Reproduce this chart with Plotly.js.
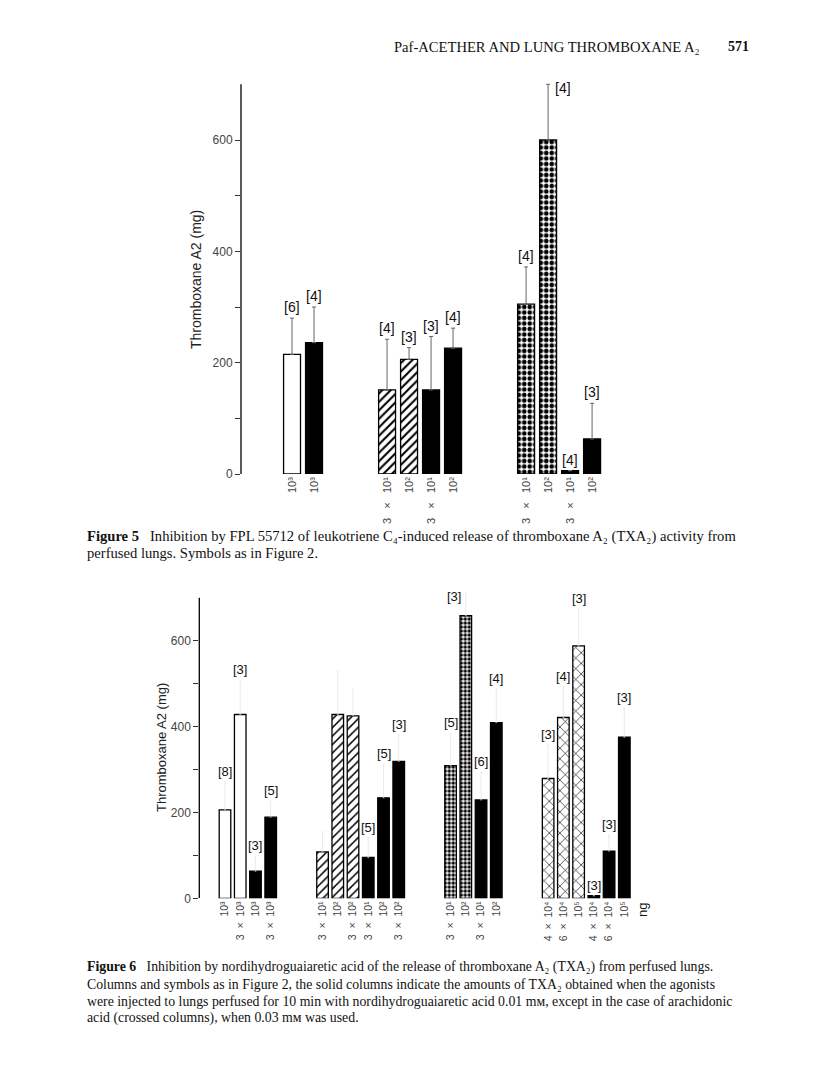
<!DOCTYPE html>
<html><head><meta charset="utf-8">
<script src="https://cdn.plot.ly/plotly-3.0.1.min.js"></script>
<style>html,body{margin:0;padding:0;background:#fff}#chart{width:816px;height:1091px}</style>
</head><body><div id="chart"></div>
<script>
// ---------- Figure 5 data ----------
const f5Labels = ['10³','10³','3   ×   10¹','10²','3   ×   10¹','10²','3   ×   10¹','10²','3   ×   10¹','10²'];
const f5Group  = [0,0,1,1,1,1,2,2,2,2];
const f5Kind   = ['open','solid','hatched','hatched','solid','solid','dotted','dotted','solid','solid'];
const f5Values = [215,236,151,206,151,226,305,600,6,63];
const f5ErrTop = [280,300,242,227,247,262,372,700,6,127];
const f5N      = [6,4,4,3,3,4,4,4,4,3];

// ---------- Figure 6 data ----------
const f6Labels = ['10³','3  ×  10³','10³','3  ×  10³',
                  '3  ×  10¹','10²','3  ×  10²','3  ×  10¹','10²','3  ×  10²',
                  '3  ×  10¹','10²','3  ×  10¹','10²',
                  '4  ×  10⁴','6  ×  10⁴','10⁵','4  ×  10⁴','6  ×  10⁴','10⁵'];
const f6Group  = [0,0,0,0, 1,1,1,1,1,1, 2,2,2,2, 3,3,3,3,3,3];
const f6Kind   = ['open','open','solid','solid',
                  'hatched','hatched','hatched','solid','solid','solid',
                  'dotted','dotted','solid','solid',
                  'crossed','crossed','crossed','solid','solid','solid'];
const f6Values = [206,428,63,189, 108,428,425,95,234,319, 309,658,229,409, 279,421,588,6,110,375];
const f6ErrTop = [270,508,98,227, 155,529,487,141,312,380, 384,712,293,487, 358,493,673,6,147,442];
const f6N      = [8,3,3,5, null,null,null,5,5,3, 5,3,6,4, 3,4,3,3,3,3];

const yTickVals = [0,200,400,600];
const yTickText = ['0','200','400','600'];
const yMinorVals = [100,300,500];

// ---------- helpers ----------
const W = 816, H = 1091;
const px = v => v / W;
const py = v => 1 - v / H;
const nb = s => s.replace(/ /g, '\u00a0');

function positions(groups, gap) {
  return groups.map((g, i) => i + g * gap);
}

function kindStyle(kind, dotSize, hatchSolid) {
  const line = {color: '#000', width: 1.3};
  switch (kind) {
    case 'open':    return {color: '#fff', line};
    case 'solid':   return {color: '#000', line};
    case 'hatched': return {color: '#fff', line, pattern: {shape: '/', fgcolor: '#000', bgcolor: '#fff', size: 6, solidity: hatchSolid, fillmode: 'replace'}};
    case 'dotted':  return {color: '#fff', line, pattern: {shape: '.', fgcolor: '#000', bgcolor: '#fff', size: dotSize, solidity: 0.55, fillmode: 'replace'}};
    case 'crossed': return {color: '#fff', line, pattern: {shape: 'x', fgcolor: '#000', bgcolor: '#fff', size: 7.5, solidity: 0.16, fillmode: 'replace'}};
  }
}

function buildTraces(xs, kinds, vals, errs, xa, ya, barW, dotSize, hatchSolid, errStyle) {
  const kindsU = [...new Set(kinds)];
  return kindsU.map(k => {
    const idx = kinds.map((kk, i) => kk === k ? i : -1).filter(i => i >= 0);
    return {
      type: 'bar', xaxis: xa, yaxis: ya,
      x: idx.map(i => xs[i]), y: idx.map(i => vals[i]),
      width: barW, marker: kindStyle(k, dotSize, hatchSolid), cliponaxis: false,
      error_y: Object.assign({type: 'data', symmetric: false, visible: true,
        array: idx.map(i => Math.max(0, errs[i] - vals[i])),
        arrayminus: idx.map(() => 0)}, errStyle),
      hoverinfo: 'skip'
    };
  });
}

function nLabels(xs, errs, ns, xref, yref, fontSize, sideOut) {
  const out = [];
  xs.forEach((x, i) => {
    if (ns[i] == null) return;
    const a = {x, y: errs[i], xref, yref, text: '[' + ns[i] + ']', showarrow: false,
      font: {family: 'Liberation Sans, Arial', size: fontSize, color: '#111'}};
    if (errs[i] >= 690) {
      a.yanchor = 'middle';
      a.yshift = -4;
      if (sideOut === 'right') { a.xanchor = 'left'; a.xshift = 5; }
      else { a.xanchor = 'right'; a.xshift = -3; }
    } else {
      a.yanchor = 'bottom'; a.yshift = 1;
    }
    out.push(a);
  });
  return out;
}

const f5X = positions(f5Group, 2.32);
const f6X = positions(f6Group, 2.4);

const traces = [
  ...buildTraces(f5X, f5Kind, f5Values, f5ErrTop, 'x', 'y', 0.77, 5.5, 0.35, {color: '#666', thickness: 1, width: 2}),
  ...buildTraces(f6X, f6Kind, f6Values, f6ErrTop, 'x2', 'y2', 0.76, 4, 0.25, {color: '#dedede', thickness: 0.6, width: 1})
];

const serif = 'Liberation Serif, Times New Roman, serif';
const sans = 'Liberation Sans, Arial, sans-serif';
const cap5Font = {family: serif, size: 14.6, color: '#111'};
const cap6Font = {family: serif, size: 13.8, color: '#111'};

function textAnn(text, xPx, yPx, font, extra) {
  return Object.assign({text, x: px(xPx), y: py(yPx), xref: 'paper', yref: 'paper',
    xanchor: 'left', yanchor: 'middle', showarrow: false, font}, extra || {});
}
const SP = '\u00a0\u00a0\u00a0';

const annotations = [
  ...nLabels(f5X, f5ErrTop, f5N, 'x', 'y', 14, 'right'),
  ...nLabels(f6X, f6ErrTop, f6N, 'x2', 'y2', 13, 'left'),
  textAnn('Paf-ACETHER AND LUNG THROMBOXANE A₂', 392, 47, {family: serif, size: 14.6, color: '#111'}),
  textAnn('<b>571</b>', 726, 47, {family: serif, size: 14, color: '#111'}),
  textAnn('<b>Figure 5</b>' + SP + 'Inhibition by FPL 55712 of leukotriene C₄-induced release of thromboxane A₂ (TXA₂) activity from', 85, 536, cap5Font),
  textAnn('perfused lungs. Symbols as in Figure 2.', 85, 553, cap5Font),
  textAnn('<b>Figure 6</b>' + SP + 'Inhibition by nordihydroguaiaretic acid of the release of thromboxane A₂ (TXA₂) from perfused lungs.', 85, 967, cap6Font),
  textAnn('Columns and symbols as in Figure 2, the solid columns indicate the amounts of TXA₂ obtained when the agonists', 85, 984, cap6Font),
  textAnn('were injected to lungs perfused for 10 min with nordihydroguaiaretic acid 0.01 mᴍ, except in the case of arachidonic', 85, 1001, cap6Font),
  textAnn('acid (crossed columns), when 0.03 mᴍ was used.', 85, 1018, cap6Font),
  textAnn('Thromboxane A2 (mg)', 196, 280, {family: sans, size: 14, color: '#222'}, {xanchor: 'center', textangle: -90}),
  textAnn('Thromboxane A2 (mg)', 161, 748, {family: sans, size: 13, color: '#222'}, {xanchor: 'center', textangle: -90}),
  textAnn('ng', 642, 910, {family: sans, size: 13, color: '#111'}, {xanchor: 'center', textangle: -90})
];

const yAxisBase = {
  range: [0, 720], showgrid: false, zeroline: false, showline: false,
  ticks: 'outside', ticklen: 5, tickwidth: 1, tickcolor: '#333',
  tickvals: yTickVals, ticktext: yTickText,
  minor: {tickvals: yMinorVals, ticks: 'outside', ticklen: 5, tickwidth: 1, tickcolor: '#333', showgrid: false},
  tickfont: {family: sans, size: 12, color: '#444'}
};
const xAxisBase = {
  showgrid: false, zeroline: false, showline: false, ticks: '',
  tickangle: -90, tickfont: {family: sans, size: 11, color: '#444'}
};

const layout = {
  width: W, height: H, margin: {l: 0, r: 0, t: 0, b: 0},
  paper_bgcolor: '#fff', plot_bgcolor: 'rgba(0,0,0,0)', showlegend: false,
  barmode: 'overlay',
  xaxis: Object.assign({}, xAxisBase, {domain: [px(241), px(611)], range: [-2.32, 14.5], anchor: 'y',
    tickvals: f5X, ticktext: f5Labels.map(nb)}),
  yaxis: Object.assign({}, yAxisBase, {domain: [py(474), py(73.2)], anchor: 'x'}),
  xaxis2: Object.assign({}, xAxisBase, {domain: [px(199.3), px(635)], range: [-1.685, 26.9], anchor: 'y2',
    tickvals: f6X, ticktext: f6Labels.map(nb), tickfont: {family: sans, size: 10.5, color: '#444'}}),
  yaxis2: Object.assign({}, yAxisBase, {domain: [py(898.3), py(589.1)], anchor: 'x2'}),
  shapes: [
    {type: 'line', xref: 'x domain', yref: 'y', x0: 0, x1: 0, y0: 0, y1: 700, line: {color: '#000', width: 1.3}},
    {type: 'line', xref: 'x2 domain', yref: 'y2', x0: 0, x1: 0, y0: 0, y1: 700, line: {color: '#000', width: 1.3}}
  ],
  annotations
};

Plotly.newPlot('chart', traces, layout, {staticPlot: true, displayModeBar: false});
</script>
</body></html>
